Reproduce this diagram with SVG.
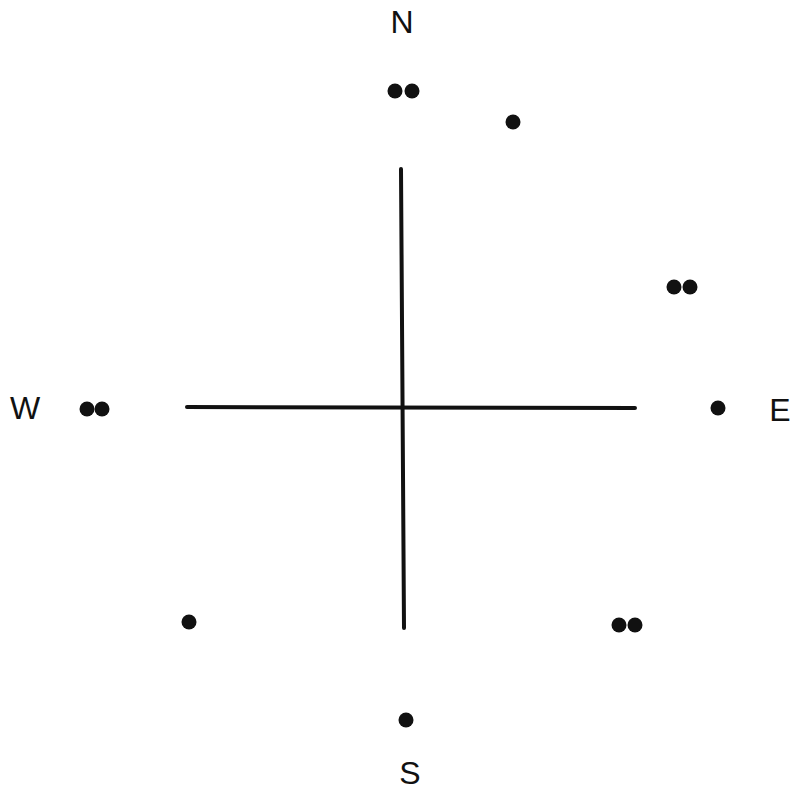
<svg xmlns="http://www.w3.org/2000/svg" width="791" height="793" viewBox="0 0 791 793">
<style>
.lbl{font-family:"Liberation Sans",Arial,sans-serif;font-size:32px;fill:#111;text-anchor:middle}
.dot{fill:#111}
.ax{stroke:#111;stroke-width:4;stroke-linecap:round;fill:none}
</style>
<rect width="791" height="793" fill="#fff"/>
<g id="connectors">
<line class="ax" x1="401" y1="169" x2="404" y2="628"/>
<line class="ax" x1="187" y1="407" x2="635" y2="408"/>
</g>
<g id="label-N"><text class="lbl" x="402" y="33">N</text></g>
<g id="label-E"><text class="lbl" x="780" y="421">E</text></g>
<g id="label-W"><text class="lbl" x="25" y="419">W</text></g>
<g id="label-S"><text class="lbl" x="410" y="784">S</text></g>
<g id="dots-N"><circle class="dot" cx="395" cy="91" r="7.5"/><circle class="dot" cx="412" cy="91" r="7.5"/></g>
<g id="dot-NE"><circle class="dot" cx="513" cy="122" r="7.5"/></g>
<g id="dots-ENE"><circle class="dot" cx="674" cy="287" r="7.5"/><circle class="dot" cx="690" cy="287" r="7.5"/></g>
<g id="dot-E"><circle class="dot" cx="718" cy="408" r="7.5"/></g>
<g id="dots-W"><circle class="dot" cx="87" cy="409" r="7.5"/><circle class="dot" cx="102" cy="409" r="7.5"/></g>
<g id="dot-SW"><circle class="dot" cx="189" cy="622" r="7.5"/></g>
<g id="dots-SE"><circle class="dot" cx="619" cy="625" r="7.5"/><circle class="dot" cx="635" cy="625" r="7.5"/></g>
<g id="dot-S"><circle class="dot" cx="406" cy="720" r="7.5"/></g>
</svg>
